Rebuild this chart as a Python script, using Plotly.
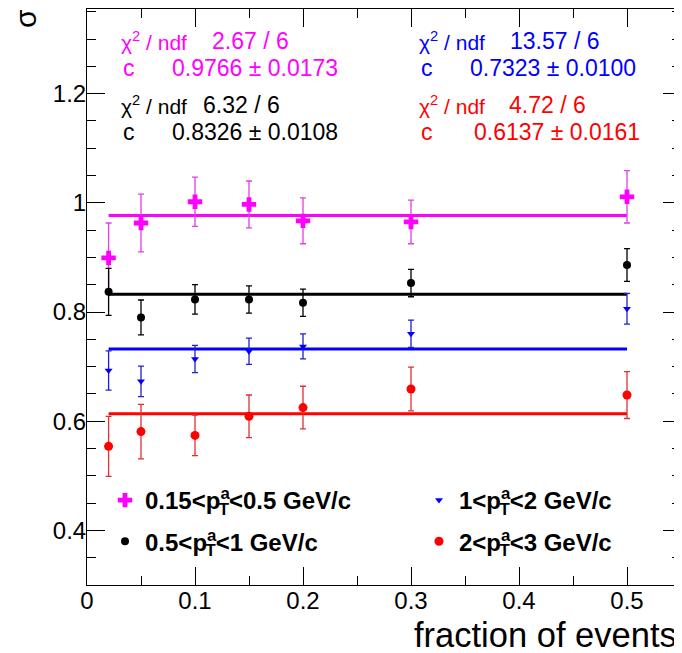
import plotly.graph_objects as go

# ---- data ----
fraction = [0.02, 0.05, 0.1, 0.15, 0.2, 0.3, 0.5]

series_names = [
    "0.15&lt;p<sup><span style='letter-spacing:-11px'>a</span></sup><sub>T</sub>&lt;0.5 GeV/c",
    "0.5&lt;p<sup><span style='letter-spacing:-11px'>a</span></sup><sub>T</sub>&lt;1 GeV/c",
    "1&lt;p<sup><span style='letter-spacing:-11px'>a</span></sup><sub>T</sub>&lt;2 GeV/c",
    "2&lt;p<sup><span style='letter-spacing:-11px'>a</span></sup><sub>T</sub>&lt;3 GeV/c",
]
ratio_015_05 = [0.899, 0.963, 1.002, 0.997, 0.967, 0.965, 1.011]
err_015_05 = [0.064, 0.053, 0.045, 0.043, 0.042, 0.040, 0.048]
ratio_05_1 = [0.837, 0.790, 0.823, 0.823, 0.817, 0.853, 0.886]
err_05_1 = [0.043, 0.032, 0.027, 0.025, 0.025, 0.025, 0.030]
ratio_1_2 = [0.693, 0.673, 0.714, 0.728, 0.737, 0.760, 0.806]
err_1_2 = [0.036, 0.028, 0.025, 0.024, 0.023, 0.025, 0.028]
ratio_2_3 = [0.554, 0.581, 0.574, 0.609, 0.625, 0.659, 0.648]
err_2_3 = [0.055, 0.050, 0.037, 0.039, 0.039, 0.040, 0.043]

fit_c = [0.9766, 0.8326, 0.7323, 0.6137]
fit_c_err = [0.0173, 0.0108, 0.0100, 0.0161]
fit_chi2 = ["2.67", "6.32", "13.57", "4.72"]
fit_ndf = [6, 6, 6, 6]

x_tickvals = [0, 0.1, 0.2, 0.3, 0.4, 0.5]
x_ticktext = ["0", "0.1", "0.2", "0.3", "0.4", "0.5"]
y_tickvals = [0.4, 0.6, 0.8, 1.0, 1.2]
y_ticktext = ["0.4", "0.6", "0.8", "1", "1.2"]

# ---- styling ----
FONT = "Liberation Sans, Arial, Helvetica, sans-serif"
OFF = 8  # page body margin of the browser
W, H = 682 - OFF, 653 - OFF
PLOT_L, PLOT_R, PLOT_T, PLOT_B = 87, 681, 9, 585  # page pixels of the frame
L = PLOT_L - OFF
R = W - (PLOT_R - OFF)
T = PLOT_T - OFF
B = H - (PLOT_B - OFF)
PW, PH = W - L - R, H - T - B

colors = ["#ff00ff", "#000000", "#0000ff", "#ff0000"]
err_colors = ["#e040e0", "#000000", "#2020d0", "#e03030"]
symbols = ["cross", "circle", "triangle-down", "circle"]
sizes = [12, 8, 7, 9]
legends = ["legend", "legend", "legend2", "legend2"]
ratios = [ratio_015_05, ratio_05_1, ratio_1_2, ratio_2_3]
errs = [err_015_05, err_05_1, err_1_2, err_2_3]


def px_x(px):
    return (px - PLOT_L) / PW


def px_y(py):
    return (PLOT_B - py) / PH


fig = go.Figure()

# fit lines
for i in range(4):
    fig.add_trace(go.Scatter(
        x=[fraction[0], fraction[-1]], y=[fit_c[i], fit_c[i]],
        mode="lines", line=dict(color=colors[i], width=3),
        showlegend=False, hoverinfo="skip"))

# data points
for i in range(4):
    fig.add_trace(go.Scatter(
        x=fraction, y=ratios[i], mode="markers",
        name="<b>" + series_names[i] + "</b>",
        legend=legends[i], legendgroup=f"g{i}",
        marker=dict(symbol=symbols[i], size=sizes[i], color=colors[i],
                    line=dict(width=0)),
        error_y=dict(type="data", array=errs[i], color=err_colors[i],
                     thickness=1.3, width=3),
    ))

# stats boxes: (label x, chi2 value x, c value x, y chi2 row, y c row)
stat_pos = [
    (119, 210, 170, 41, 68),
    (119, 201, 170, 105, 132),
    (417, 508, 468, 41, 68),
    (417, 507, 472, 105, 132),
]
for i in range(4):
    lx, vx1, vx2, y1, y2 = stat_pos[i]
    items = [
        (lx, y1, "χ<sup>2</sup> / ndf", 21),
        (vx1, y1, f"{fit_chi2[i]} / {fit_ndf[i]}", 23),
        (lx + 2, y2, "c", 23),
        (vx2, y2, f"{fit_c[i]:.4f} ± {fit_c_err[i]:.4f}", 23),
    ]
    for (x, y, txt, fs) in items:
        fig.add_annotation(x=px_x(x), y=px_y(y), xref="paper", yref="paper",
                           text=txt, showarrow=False, xanchor="left",
                           yanchor="middle",
                           font=dict(family=FONT, size=fs, color=colors[i]))

# axis titles
fig.add_annotation(x=px_x(679), y=px_y(635), xref="paper", yref="paper",
                   text="fraction of events", showarrow=False,
                   xanchor="right", yanchor="middle",
                   font=dict(family=FONT, size=34.5, color="black"))
fig.add_annotation(x=px_x(25), y=px_y(19), xref="paper", yref="paper",
                   text="σ", showarrow=False, textangle=-90,
                   xanchor="center", yanchor="middle",
                   font=dict(family=FONT, size=30, color="black"))

axis_common = dict(
    showline=True, linecolor="black", linewidth=1, mirror="ticks",
    ticks="inside", ticklen=18, tickwidth=1, tickcolor="black",
    showgrid=False, zeroline=False,
    tickfont=dict(family=FONT, size=24, color="black"),
)

fig.update_xaxes(range=[0, 0.55], tickmode="array", tickvals=x_tickvals,
                 ticktext=x_ticktext, ticklabelstandoff=-6,
                 minor=dict(dtick=0.05, tick0=0, ticks="inside", ticklen=9,
                            tickcolor="black", showgrid=False),
                 **axis_common)
fig.update_yaxes(range=[0.3, 1.355], tickmode="array", tickvals=y_tickvals,
                 ticktext=y_ticktext, ticklabelstandoff=-5,
                 minor=dict(dtick=0.05, tick0=0, ticks="inside", ticklen=9,
                            tickcolor="black", showgrid=False),
                 **axis_common)

legend_common = dict(
    orientation="v", xanchor="left", yanchor="top",
    bgcolor="rgba(0,0,0,0)", borderwidth=0,
    font=dict(family=FONT, size=24, color="black"),
    tracegroupgap=7, traceorder="grouped", itemsizing="trace",
)
fig.update_layout(
    width=W, height=H,
    margin=dict(l=L, r=R, t=T, b=B),
    paper_bgcolor="white", plot_bgcolor="white",
    font=dict(family=FONT, color="black"),
    legend=dict(x=px_x(105), y=px_y(478), **legend_common),
    legend2=dict(x=px_x(419), y=px_y(478), **legend_common),
)

fig.write_html("out.html")
